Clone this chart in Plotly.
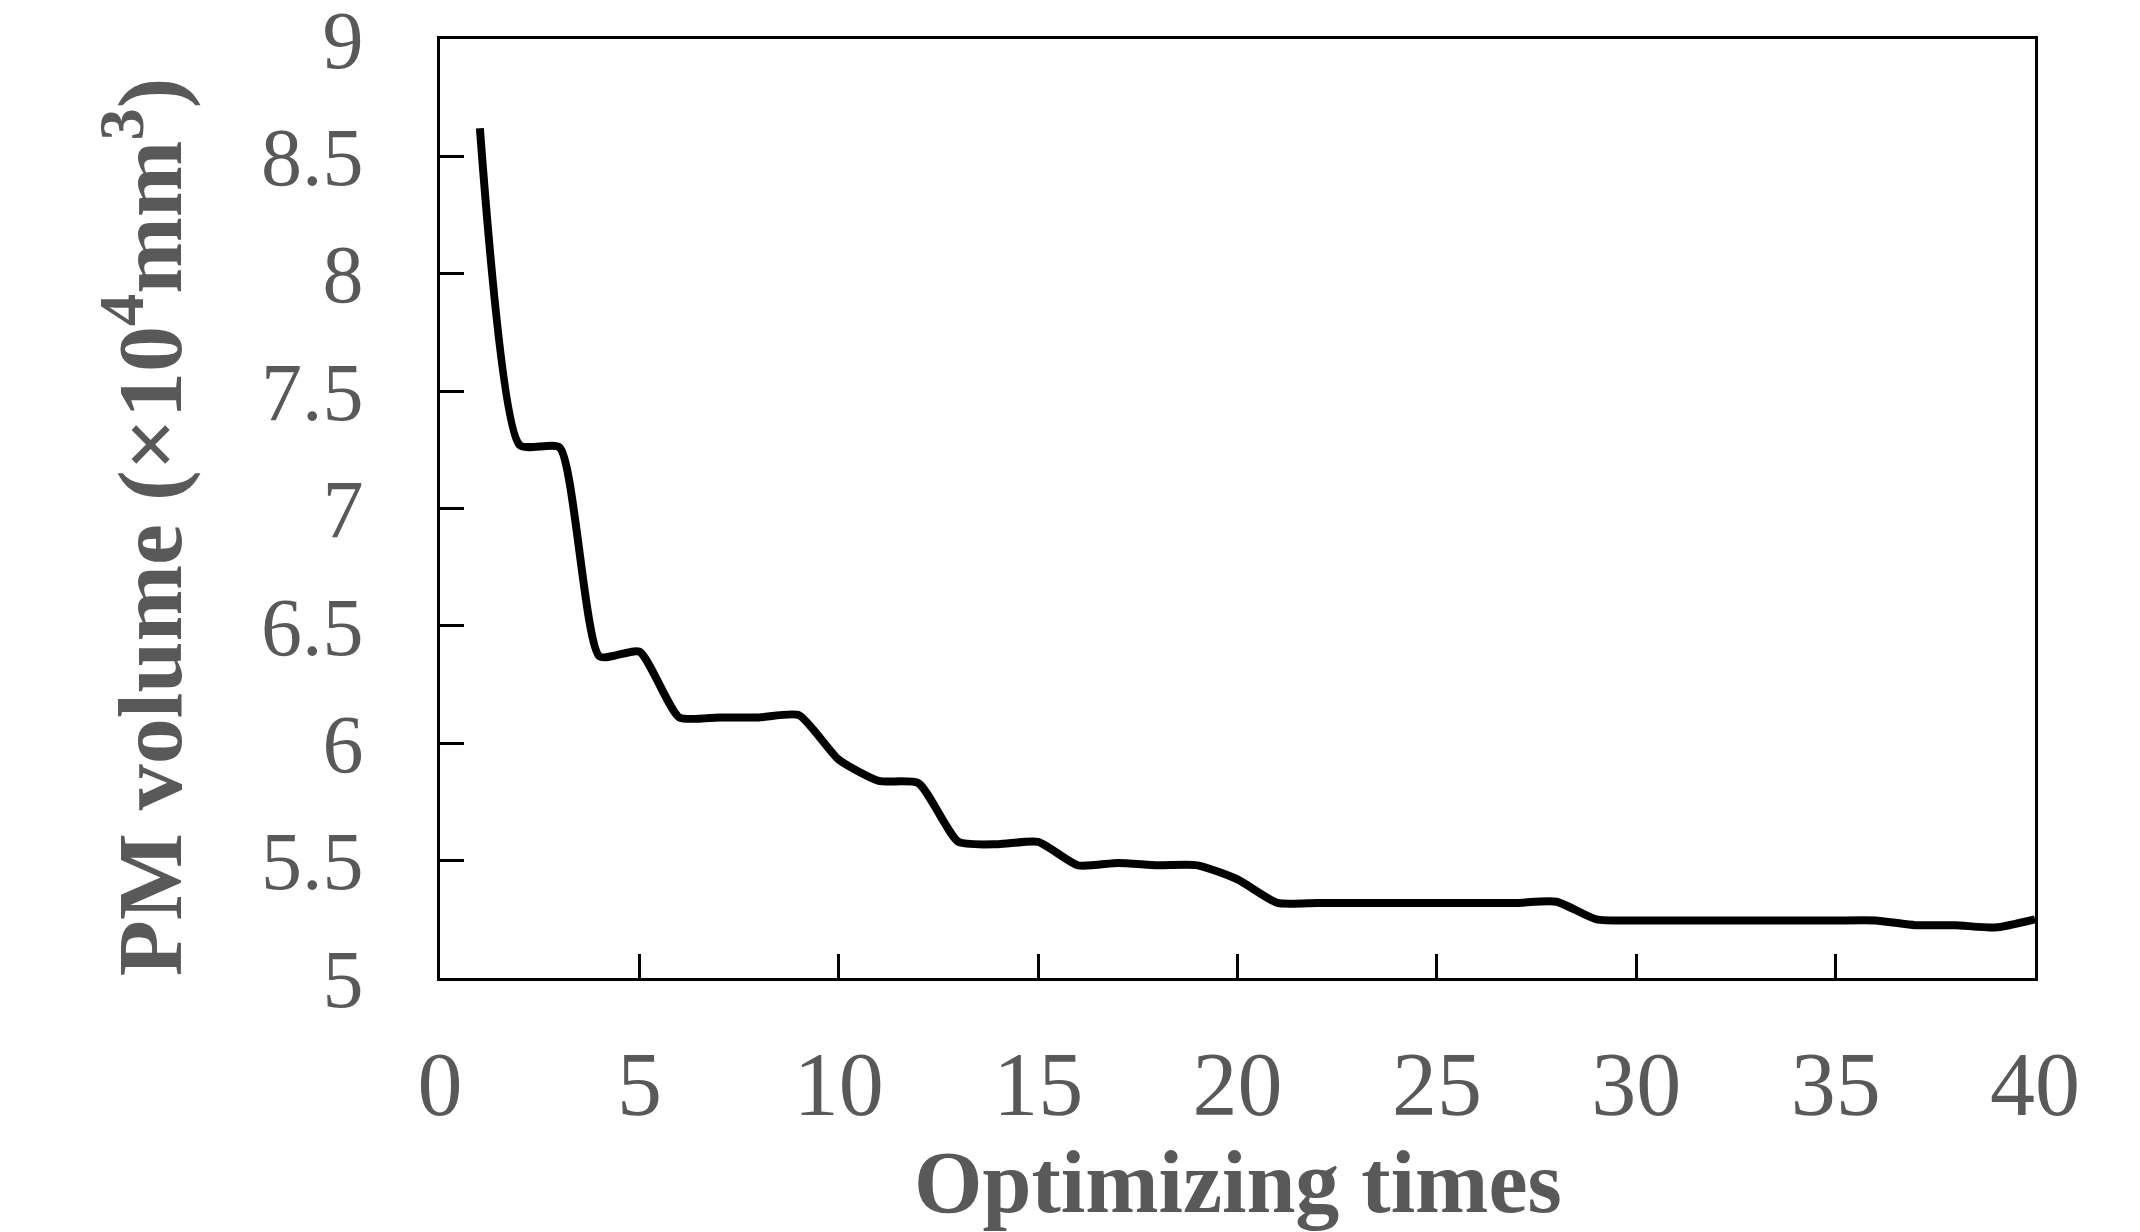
import plotly.graph_objects as go

iterations = list(range(1, 41))
pm_volume = [8.62, 7.27, 7.26, 6.37, 6.39, 6.11, 6.11, 6.11, 6.12, 5.93,
             5.84, 5.83, 5.58, 5.57, 5.58, 5.48, 5.49, 5.48, 5.48, 5.42,
             5.32, 5.32, 5.32, 5.32, 5.32, 5.32, 5.32, 5.325, 5.25, 5.245,
             5.245, 5.245, 5.245, 5.245, 5.245, 5.245, 5.225, 5.225, 5.215, 5.25]

x_ticks = [0, 5, 10, 15, 20, 25, 30, 35, 40]
y_ticks = [5, 5.5, 6, 6.5, 7, 7.5, 8, 8.5, 9]
y_tick_text = ["5", "5.5", "6", "6.5", "7", "7.5", "8", "8.5", "9"]

x_title = "Optimizing times"
y_title = "PM volume (×10<sup>4</sup>mm<sup>3</sup>)"

GRAY = "#595959"
FONT = "Liberation Serif, Times New Roman, serif"

fig = go.Figure()
fig.add_trace(go.Scatter(
    x=iterations, y=pm_volume, mode="lines",
    line=dict(color="black", width=8, shape="spline", smoothing=0.55),
    showlegend=False, hoverinfo="x+y",
))

fig.update_layout(
    width=2140, height=1232,
    margin=dict(l=432, r=113, t=31, b=262, autoexpand=False),
    paper_bgcolor="white", plot_bgcolor="white",
    font=dict(family=FONT, color=GRAY),
    xaxis=dict(
        range=[0, 40], tickvals=x_ticks, ticks="inside", ticklen=24, tickwidth=3,
        tickcolor="black", showline=True, linecolor="black", linewidth=3,
        mirror=True, showgrid=False, zeroline=False, automargin=False,
        tickfont=dict(family=FONT, size=90, color=GRAY), ticklabelstandoff=26,
        ticklabeloverflow="allow",
    ),
    yaxis=dict(
        range=[5, 9], tickvals=y_ticks, ticktext=y_tick_text, ticks="inside",
        ticklen=24, tickwidth=3, tickcolor="black", showline=True,
        linecolor="black", linewidth=3, mirror=True, showgrid=False,
        zeroline=False, automargin=False,
        tickfont=dict(family=FONT, size=82, color=GRAY),
        ticklabelstandoff=57, ticklabeloverflow="allow",
    ),
    annotations=[
        dict(text="<b>" + x_title + "</b>", xref="paper", yref="paper",
             x=0.5, y=0, yshift=-204, xanchor="center", yanchor="middle",
             showarrow=False, font=dict(family=FONT, size=88, color=GRAY)),
        dict(text="<b>" + y_title + "</b>", xref="paper", yref="paper",
             x=0, xshift=-296, y=0.48, xanchor="center", yanchor="middle",
             textangle=-90, showarrow=False,
             font=dict(family=FONT, size=92, color=GRAY)),
    ],
)

fig.write_html("out.html")
